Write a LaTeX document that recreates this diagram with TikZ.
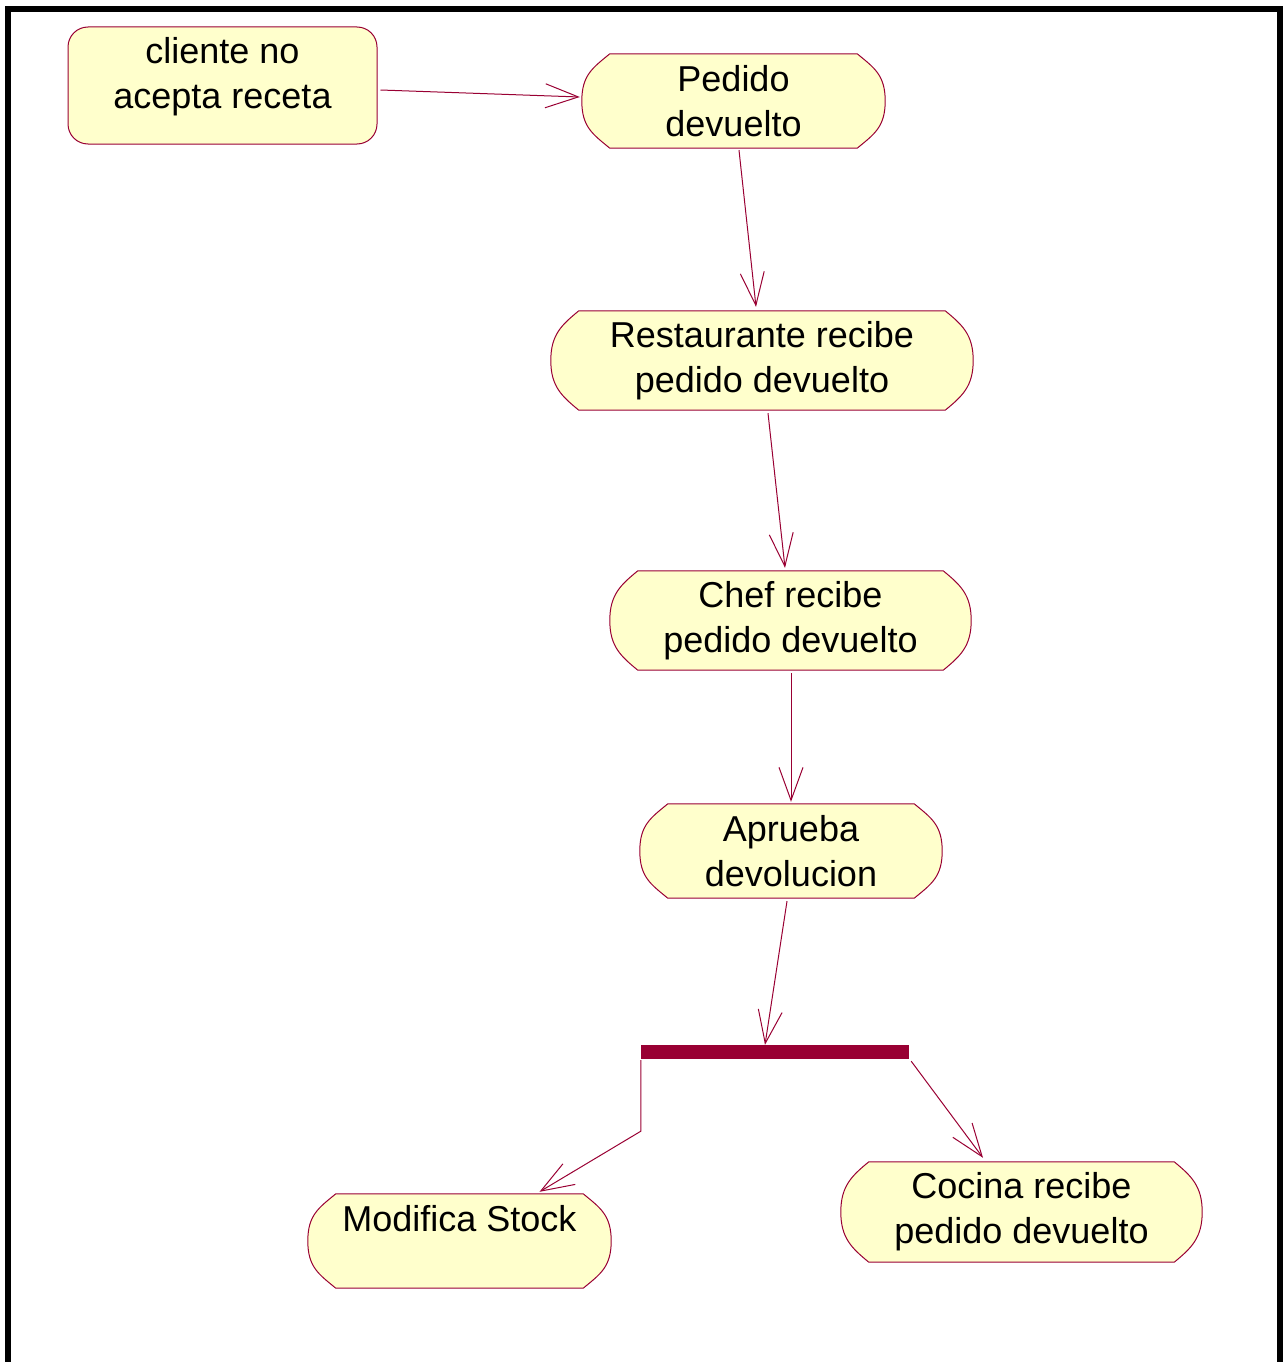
\documentclass[tikz,border=0pt]{standalone}
\usepackage{fontspec}
\setmainfont{Liberation Sans}
\usetikzlibrary{arrows.meta,calc,backgrounds}
\definecolor{actline}{HTML}{990033}
\definecolor{actfill}{HTML}{FFFFCC}
\tikzset{
  txt/.style={font=\fontsize{36}{45}\selectfont, align=center, inner sep=0pt, text=black},
  act/.style 2 args={txt, minimum width=#1, minimum height=#2},
  syncbar/.style={fill=actline, draw=none, inner sep=0pt, minimum width=268, minimum height=14},
  flow/.style={draw=actline, line width=1pt, -{Straight Barb[length=33pt,width=24pt]}},
  outline/.style={draw=actline, line width=1pt, fill=actfill},
}
% activity outline: flat top and bottom, bulging sides
\newcommand\actoutline[1]{%
  \draw[outline]
    ([xshift=28pt]#1.north west) -- ([xshift=-28pt]#1.north east)
    .. controls +(17,14) and +(0,-26) .. (#1.east)
    .. controls +(0,26) and +(17,-14) .. ([xshift=-28pt]#1.south east)
    -- ([xshift=28pt]#1.south west)
    .. controls +(-17,-14) and +(0,26) .. (#1.west)
    .. controls +(0,-26) and +(-17,14) .. cycle;}
\begin{document}
\begin{tikzpicture}[x=1pt,y=-1pt]
\useasboundingbox (0,0) rectangle (1282,1362);

% frame
\draw[line width=6pt, black] (8,1375) -- (8,9) -- (1279.5,9) -- (1279.5,1375);

% activities
\node[act={309}{117}, outline, rounded corners=20pt] (cli) at (222.5,85.5)
  {cliente no\\acepta receta\\[-20pt]\mbox{}};
\node[act={303}{94}]  (ped)  at (733.5,101)  {Pedido\\devuelto};
\node[act={422}{99}]  (rest) at (762,360.5)  {Restaurante recibe\\pedido devuelto};
\node[act={361}{99}]  (chef) at (790.5,620.5) {Chef recibe\\pedido devuelto};
\node[act={302}{94}]  (apr)  at (791,851)    {Aprueba\\devolucion};
\node[syncbar]        (sync) at (775,1052)   {};
\node[act={303}{94}]  (mod)  at (459.5,1241) {Modifica Stock\\\mbox{}};
\node[act={361}{100}] (coc)  at (1021.5,1212) {Cocina recibe\\pedido devuelto};

\begin{scope}[on background layer]
  \actoutline{ped}
  \actoutline{rest}
  \actoutline{chef}
  \actoutline{apr}
  \actoutline{mod}
  \actoutline{coc}
\end{scope}

% transitions
\draw[flow] ($(cli.east)+(3,4.5)$) -- ($(ped.west)+(-2,-4)$);
\draw[flow] ($(ped.south)+(5.5,2)$) -- ($(rest.north)+(-6,-4)$);
\draw[flow] ($(rest.south)+(6,3)$) -- ($(chef.north)+(-5.5,-3)$);
\draw[flow] ($(chef.south)+(0.5,3)$) -- ($(apr.north)+(0,-2)$);
\draw[flow] ($(apr.south)+(-4,3)$) -- ($(sync.north)+(-10,0)$);
\draw[flow] ($(sync.south west)+(0,1)$) -- ($(sync.south west)+(0,72)$) -- ($(mod.north)+(80,-2)$);
\draw[flow] ($(sync.south east)+(2,2)$) -- ($(coc.north)+(-38.5,-4)$);
\end{tikzpicture}
\end{document}
